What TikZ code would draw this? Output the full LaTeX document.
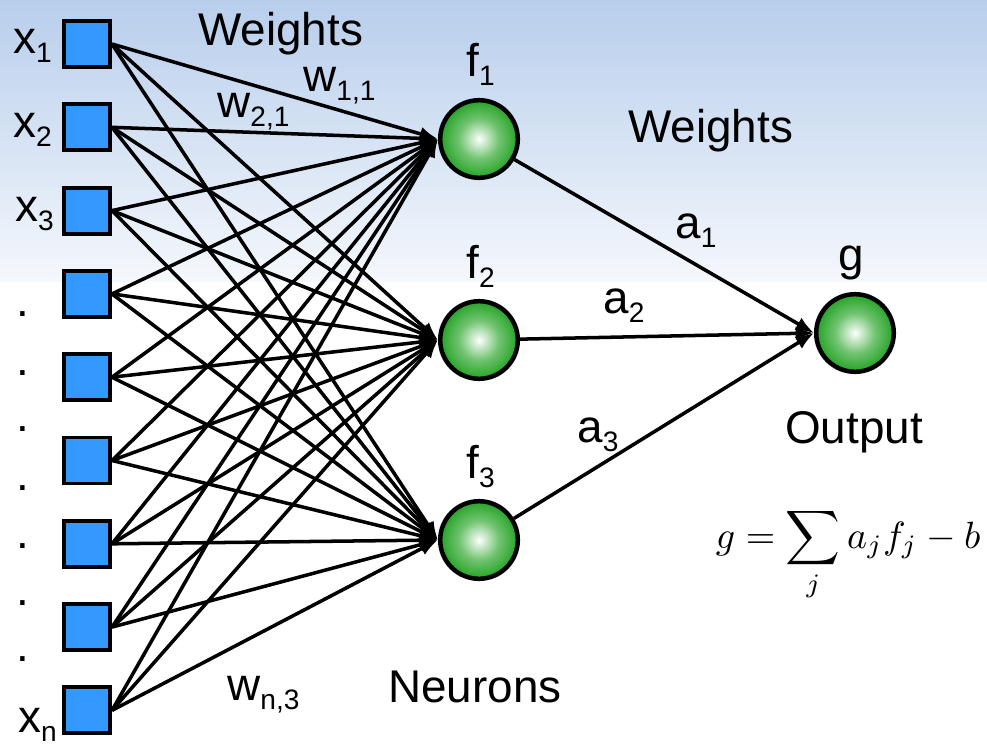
\documentclass[tikz,border=0pt]{standalone}
\usepackage{fontspec}
\setmainfont{Liberation Sans}
\usepackage{xcolor}
\usetikzlibrary{arrows.meta}

\definecolor{bgtop}{RGB}{184,206,236}
\definecolor{inblue}{RGB}{51,153,255}
\definecolor{ngreen}{RGB}{24,158,24}

\pgfdeclareradialshading{neuronball}{\pgfpointorigin}{color(0bp)=(white); color(3bp)=(white!85!ngreen); color(13bp)=(ngreen!62!white); color(24bp)=(ngreen!92!white); color(50bp)=(ngreen)}

\newcommand{\lowix}[1]{\raisebox{-6.5pt}{\fontsize{20}{22}\selectfont #1}}

\begin{document}
\begin{tikzpicture}[x=0.025cm, y=-0.025cm,
  conn/.style={line width=2.5pt, -{Latex[length=13pt,width=10pt]}},
  inp/.style={draw, line width=2.8pt, fill=inblue, minimum size=1.15cm, inner sep=0pt},
  neuron/.style={circle, draw, line width=3.2pt, shade, shading=neuronball, minimum size=1.94cm, inner sep=0pt},
  lbl/.style={font=\fontsize{32.6}{36}\selectfont, inner sep=0pt, anchor=base west}]

% Background
\useasboundingbox (0,0) rectangle (987,746);
\fill[white] (0,0) rectangle (987,746);
\shade[top color=bgtop, bottom color=bgtop!15!white] (0,0) rectangle (987,281);

% Input squares
\foreach \i in {1,...,9}
  \node[inp] (in\i) at (87,{44+83.3*(\i-1)}) {};

% Input labels
\node[lbl] (lx1) at (13,53) {x\lowix{1}};
\node[lbl] (lx2) at (13,137) {x\lowix{2}};
\node[lbl] (lx3) at (15,221) {x\lowix{3}};
\node[lbl] (lxn) at (18,732) {x\lowix{n}};
\foreach \y [count=\k] in {316,375,431,490,548,605,661}
  \node[lbl, anchor=base] (dot\k) at (23,\y) {.};

% Hidden neurons
\node[neuron] (nr1) at (479,139) {};
\node[neuron] (nr2) at (479,340) {};
\node[neuron] (nr3) at (479,540) {};
\node[lbl] (lf1) at (466,76) {f\lowix{1}};
\node[lbl] (lf2) at (466,278) {f\lowix{2}};
\node[lbl] (lf3) at (466,478) {f\lowix{3}};

% Output neuron
\node[neuron] (g) at (855,333) {};
\node[lbl] (lg) at (838,270) {g};
\node[lbl] (lout) at (785,443) {Output};

% Weights from inputs to neurons
\foreach \i in {1,...,9}
  \foreach \j in {1,2,3}
    \draw[conn] (in\i.east) -- (nr\j.west);

% Weights from neurons to output
\foreach \j in {1,2,3}
  \draw[conn] (nr\j) -- (g.west);

% Text labels
\node[lbl] (wt1) at (198,45) {Weights};
\node[lbl] (w11) at (303,91) {w\lowix{1,1}};
\node[lbl] (w21) at (217,117) {w\lowix{2,1}};
\node[lbl] (wn3) at (227,700) {w\lowix{n,3}};
\node[lbl] (wt2) at (628,142) {Weights};
\node[lbl] (la1) at (675,238) {a\lowix{1}};
\node[lbl] (la2) at (603,313) {a\lowix{2}};
\node[lbl] (la3) at (577,442) {a\lowix{3}};
\node[lbl] (neur) at (388,702) {Neurons};

% Output formula
\node[inner sep=0pt, anchor=base west, scale=2.7] (form) at (715,548) {$\displaystyle g=\sum_j a_j f_j - b$};

\end{tikzpicture}
\end{document}
